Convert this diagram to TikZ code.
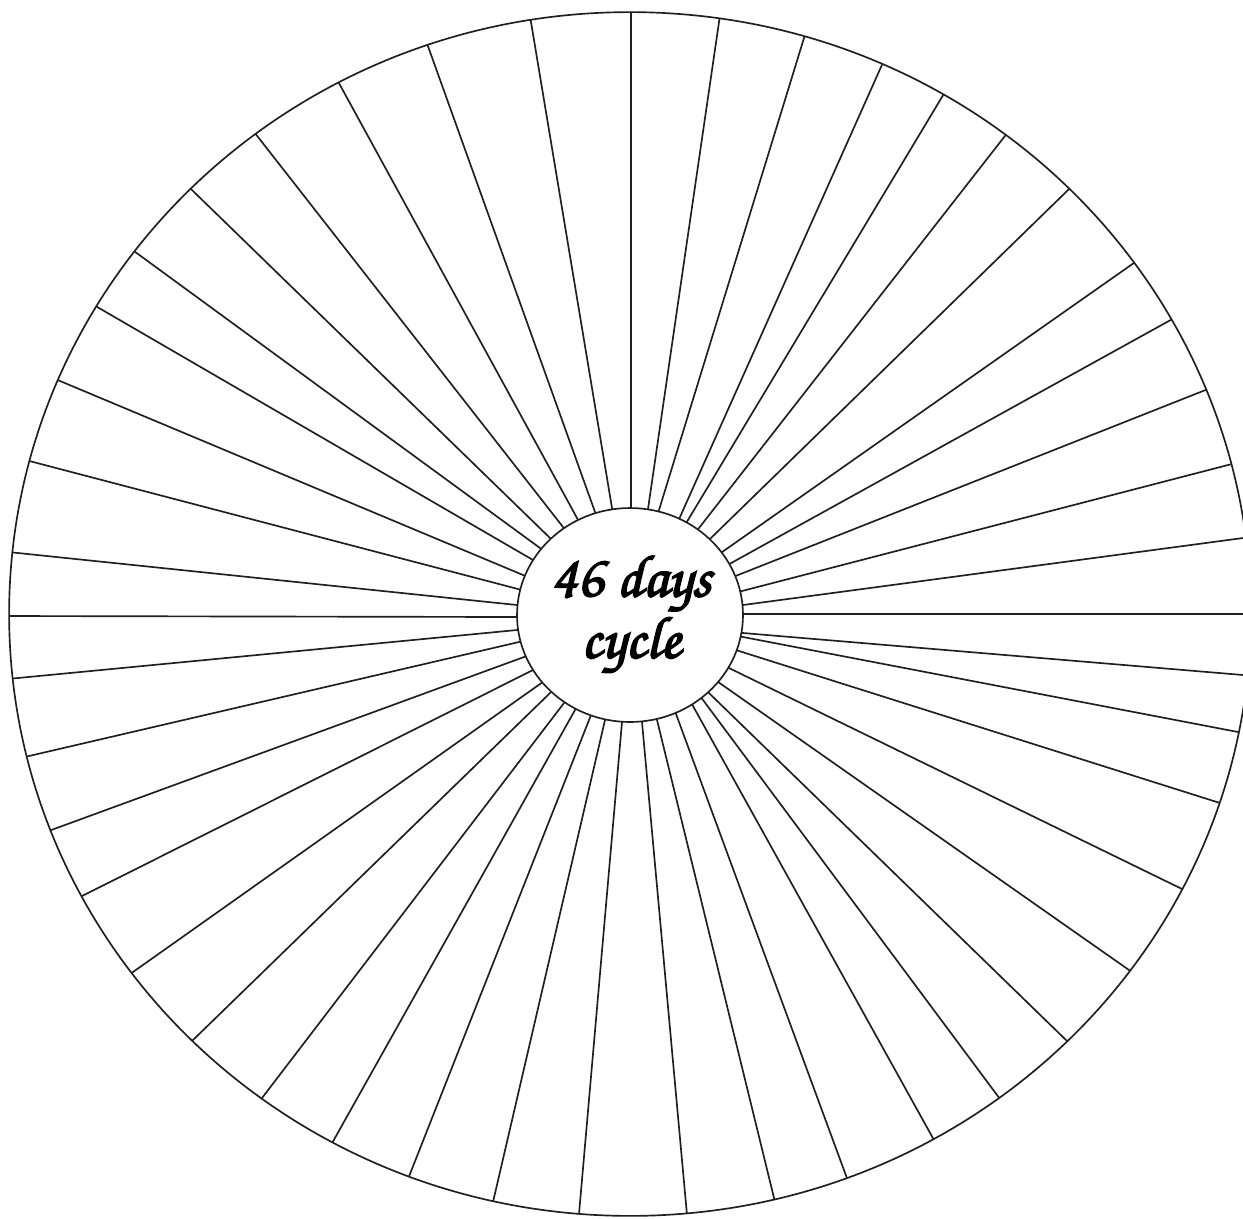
\documentclass[tikz,border=0pt]{standalone}
\usepackage[T1]{fontenc}
\usetikzlibrary{shapes.geometric,calc}
\begin{document}
\begin{tikzpicture}[x=0.02cm,y=-0.02cm,
  spoke/.style={line width=0.95pt, draw=black!88, shorten >=-6pt, shorten <=-6pt},
  rim/.style={line width=0.95pt, draw=black!88},
  hub/.style={ellipse, draw=black!88, line width=0.95pt, fill=white, inner sep=0pt,
              minimum width=4.52cm, minimum height=4.28cm},
  lbl/.style={align=center, inner sep=0pt,
              font=\fontfamily{pzc}\fontseries{mb}\fontshape{it}\fontsize{34}{35}\selectfont}]
\useasboundingbox (0,0) rectangle (1243,1218);
\fill[white] (0,0) rectangle (1243,1218);
\coordinate (c) at (630,614);
\begin{scope}
  \clip (c) ellipse [x radius=12.42cm, y radius=12.04cm];
  \foreach \ox/\oy/\ix/\iy in {
    5/616/517/617,
    18/553/517/605, 37/463/518/589, 60/381/523/575, 99/308/533/560,
    138/254/540/548, 193/191/550/538, 258/137/563/527, 340/85/577/518,
    429/49/595/512, 531/22/612/508,
    631/5/631/508,
    719/22/648/509, 804/38/659/510, 881/67/680/517, 942/97/688/520,
    1001/141/699/528, 1066/192/712/537, 1131/265/725/550, 1167/322/733/562,
    1203/391/738/575, 1228/465/742/591, 1243/538/743/605,
    1255/614/743/614,
    1243/675/743/633, 1238/732/743/637, 1220/803/739/651, 1180/888/731/669,
    1129/970/721/684, 1067/1041/711/695, 1000/1099/703/700, 934/1140/693/706,
    848/1181/676/714, 775/1202/657/720, 687/1215/642/722,
    579/1214/622/722, 493/1202/605/720, 408/1179/591/715, 331/1145/575/710,
    262/1098/564/703, 193/1040/549/694, 133/972/540/684, 84/895/531/671,
    54/829/524/657, 29/756/519/642, 18/678/517/630}
    \draw[spoke] (\ox,\oy) -- (\ix,\iy);
\end{scope}
\draw[rim] (c) ellipse [x radius=12.42cm, y radius=12.04cm];
\node[hub] (h) at (630,615) {};
\node[lbl] (t) at (631,615) {\special{pdf:literal direct 2 Tr 0.9 w}46 days\\cycle\special{pdf:literal direct 0 Tr}};
\end{tikzpicture}
\end{document}
